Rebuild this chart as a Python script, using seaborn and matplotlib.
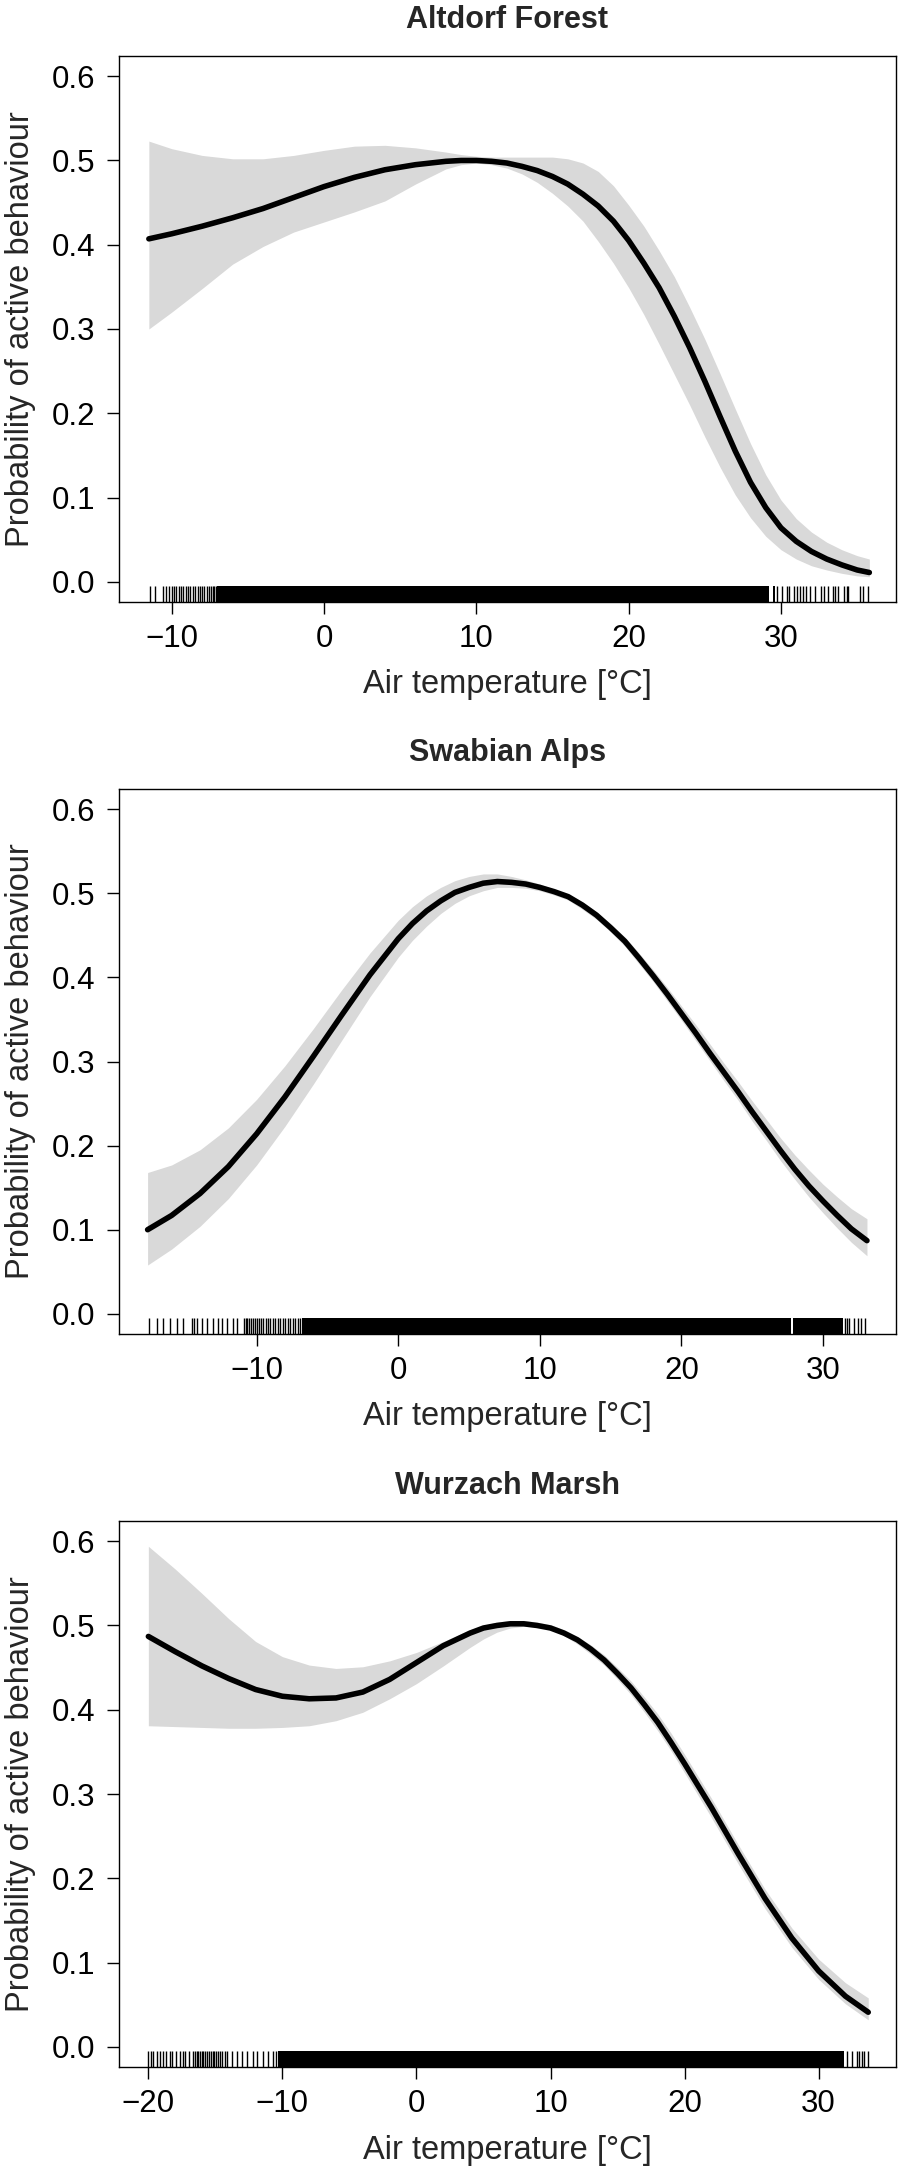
import matplotlib
matplotlib.use("Agg")
import matplotlib.pyplot as plt
import seaborn as sns

# ---------------- data ----------------
titles = ["Altdorf Forest", "Swabian Alps", "Wurzach Marsh"]
xlabel = "Air temperature [°C]"
ylabel = "Probability of active behaviour"
yticks = [0.0, 0.1, 0.2, 0.3, 0.4, 0.5, 0.6]

# Altdorf Forest
t1 = [-11.5, -10, -8, -6, -4, -2, 0, 2, 4, 6, 8, 9, 10, 11, 12, 13, 14, 15, 16, 17,
      18, 19, 20, 21, 22, 23, 24, 25, 26, 27, 28, 29, 30, 31, 32, 33, 34, 35, 35.8]
p1 = [0.407, 0.413, 0.422, 0.432, 0.443, 0.456, 0.469, 0.480, 0.489, 0.495, 0.499,
      0.500, 0.500, 0.499, 0.497, 0.493, 0.488, 0.481, 0.472, 0.460, 0.446, 0.428,
      0.405, 0.378, 0.349, 0.315, 0.278, 0.238, 0.196, 0.155, 0.118, 0.088, 0.064,
      0.048, 0.036, 0.027, 0.020, 0.014, 0.011]
hi1 = [0.523, 0.514, 0.506, 0.502, 0.502, 0.506, 0.512, 0.517, 0.518, 0.515, 0.510,
       0.507, 0.505, 0.504, 0.504, 0.504, 0.504, 0.504, 0.502, 0.497, 0.487, 0.470,
       0.447, 0.422, 0.393, 0.362, 0.326, 0.288, 0.247, 0.205, 0.164, 0.127, 0.097,
       0.075, 0.059, 0.047, 0.038, 0.031, 0.027]
lo1 = [0.300, 0.320, 0.348, 0.377, 0.398, 0.415, 0.427, 0.439, 0.452, 0.472, 0.490,
       0.495, 0.497, 0.495, 0.491, 0.484, 0.474, 0.461, 0.446, 0.428, 0.404, 0.378,
       0.349, 0.317, 0.282, 0.246, 0.210, 0.172, 0.136, 0.103, 0.076, 0.054, 0.038,
       0.027, 0.019, 0.014, 0.010, 0.007, 0.006]
rug1 = [-11.45, -11.1, -10.6, -10.35, -10.2, -10.0, -9.85, -9.7, -9.5, -9.4, -9.25,
        -9.05, -8.9, -8.8, -8.6, -8.5, -8.3, -8.15, -8.0, -7.85, -7.7, -7.55, -7.4,
        -7.3, -7.2, -7.1,
        29.76, 30.04, 30.4, 30.55, 30.85, 31.03, 31.25, 31.46, 31.64, 31.9, 32.23,
        32.6, 32.82, 33.1, 33.4, 33.55, 33.76, 34.14, 34.31, 34.42, 35.19, 35.4, 35.73]
dense1 = [(-7.0, 29.2), (29.45, 29.6)]

# Swabian Alps
t2 = [-17.7, -16, -14, -12, -10, -8, -6, -4, -2, 0, 1, 2, 3, 4, 5, 6, 7, 8, 9, 10,
      11, 12, 13, 14, 15, 16, 17, 18, 19, 20, 21, 22, 23, 24, 25, 26, 27, 28, 29,
      30, 31, 32, 33.1]
p2 = [0.100, 0.117, 0.143, 0.175, 0.214, 0.258, 0.306, 0.355, 0.403, 0.446, 0.464,
      0.479, 0.491, 0.501, 0.507, 0.512, 0.514, 0.513, 0.511, 0.507, 0.502, 0.496,
      0.486, 0.474, 0.459, 0.443, 0.423, 0.402, 0.380, 0.357, 0.334, 0.310, 0.287,
      0.264, 0.240, 0.217, 0.194, 0.172, 0.152, 0.134, 0.117, 0.101, 0.087]
hi2 = [0.168, 0.177, 0.195, 0.221, 0.255, 0.295, 0.339, 0.385, 0.429, 0.468, 0.484,
       0.497, 0.507, 0.515, 0.520, 0.523, 0.523, 0.520, 0.516, 0.511, 0.505, 0.499,
       0.490, 0.478, 0.464, 0.448, 0.429, 0.409, 0.388, 0.366, 0.344, 0.321, 0.298,
       0.276, 0.253, 0.231, 0.209, 0.189, 0.171, 0.154, 0.139, 0.125, 0.113]
lo2 = [0.058, 0.077, 0.104, 0.137, 0.177, 0.223, 0.273, 0.325, 0.377, 0.424, 0.444,
       0.461, 0.476, 0.488, 0.497, 0.503, 0.507, 0.507, 0.506, 0.503, 0.498, 0.492,
       0.481, 0.469, 0.454, 0.437, 0.416, 0.395, 0.372, 0.349, 0.325, 0.301, 0.277,
       0.254, 0.229, 0.206, 0.182, 0.160, 0.139, 0.120, 0.102, 0.085, 0.069]
rug2 = [-17.6, -17.06, -16.6, -16.12, -15.65, -15.23, -14.6, -14.4, -14.24, -13.88,
        -13.5, -13.06, -12.7, -12.43, -12.08, -11.65, -11.41, -10.9, -10.78, -10.66,
        -10.54, -10.42, -10.28, -10.12, -10.0, -9.84, -9.7, -9.53, -9.36, -9.22,
        -9.06, -8.87, -8.71, -8.52, -8.35, -8.16, -7.98, -7.81, -7.65, -7.46, -7.3,
        -7.1, -6.95,
        31.55, 31.7, 31.85, 32.2, 32.45, 32.65, 32.95]
dense2 = [(-6.8, 27.75), (27.85, 31.4)]

# Wurzach Marsh
t3 = [-20, -18, -16, -14, -12, -10, -8, -6, -4, -2, 0, 2, 4, 5, 6, 7, 8, 9, 10, 11,
      12, 13, 14, 15, 16, 17, 18, 19, 20, 22, 24, 26, 28, 30, 32, 33.7]
p3 = [0.487, 0.469, 0.452, 0.437, 0.424, 0.416, 0.413, 0.414, 0.421, 0.436, 0.456,
      0.476, 0.491, 0.497, 0.500, 0.502, 0.502, 0.500, 0.497, 0.491, 0.483, 0.472,
      0.459, 0.443, 0.426, 0.406, 0.385, 0.361, 0.336, 0.284, 0.229, 0.176, 0.129,
      0.090, 0.060, 0.041]
hi3 = [0.594, 0.567, 0.538, 0.508, 0.481, 0.463, 0.453, 0.449, 0.451, 0.458, 0.468,
       0.481, 0.495, 0.500, 0.504, 0.506, 0.506, 0.504, 0.501, 0.495, 0.487, 0.477,
       0.465, 0.450, 0.434, 0.415, 0.395, 0.372, 0.347, 0.295, 0.240, 0.187, 0.141,
       0.104, 0.076, 0.058]
lo3 = [0.381, 0.380, 0.379, 0.378, 0.378, 0.379, 0.381, 0.387, 0.397, 0.413, 0.431,
       0.452, 0.474, 0.484, 0.492, 0.497, 0.499, 0.498, 0.495, 0.488, 0.478, 0.466,
       0.453, 0.436, 0.418, 0.397, 0.375, 0.351, 0.325, 0.272, 0.217, 0.164, 0.118,
       0.080, 0.051, 0.032]
rug3 = [-20.0, -19.81, -19.62, -19.32, -19.13, -18.94, -18.67, -18.41, -18.22, -17.92,
        -17.65, -17.42, -17.23, -16.97, -16.7, -16.55, -16.4, -16.3, -16.15, -16.0,
        -15.9, -15.75, -15.6, -15.5, -15.35, -15.2, -15.1, -14.95, -14.8, -14.65,
        -14.5, -14.32, -14.13, -13.75, -13.37, -12.99, -12.61, -12.23, -11.86,
        -11.48, -11.1, -10.72, -10.5,
        32.08, 32.46, 32.84, 33.03, 33.22, 33.4, 33.67]
dense3 = [(-10.3, 31.9)]

panels = [
    dict(t=t1, p=p1, lo=lo1, hi=hi1, rug=rug1, dense=dense1,
         xlim=(-13.46, 37.55), xticks=[-10, 0, 10, 20, 30]),
    dict(t=t2, p=p2, lo=lo2, hi=hi2, rug=rug2, dense=dense2,
         xlim=(-19.72, 35.15), xticks=[-10, 0, 10, 20, 30]),
    dict(t=t3, p=p3, lo=lo3, hi=hi3, rug=rug3, dense=dense3,
         xlim=(-22.19, 35.77), xticks=[-20, -10, 0, 10, 20, 30]),
]

# ---------------- style ----------------
sns.set_style("ticks")
plt.rcParams['font.family'] = ['Liberation Sans', 'DejaVu Sans']
plt.rcParams['axes.unicode_minus'] = True

W, H = 898, 2170
fig = plt.figure(figsize=(W / 100, H / 100), dpi=100)

boxes = [(56, 602), (789, 1334), (1521, 2067)]
left_px, right_px = 119, 896

for i, (pan, (top, bot)) in enumerate(zip(panels, boxes)):
    ax = fig.add_axes([left_px / W, 1 - bot / H, (right_px - left_px) / W, (bot - top) / H])
    ax.fill_between(pan['t'], pan['lo'], pan['hi'], color='#D9D9D9', lw=0, zorder=1)
    sns.lineplot(x=pan['t'], y=pan['p'], ax=ax, color='black', lw=4.0,
                 solid_capstyle='round', solid_joinstyle='round', zorder=3)
    for (a, b) in pan['dense']:
        ax.axvspan(a, b, ymin=0, ymax=0.03, color='black', lw=0, zorder=2)
    sns.rugplot(x=pan['rug'], ax=ax, height=0.03, color='black', lw=0.8, zorder=2)

    ax.set_xlim(*pan['xlim'])
    ax.set_ylim(-0.024, 0.624)
    ax.set_xticks(pan['xticks'])
    ax.set_yticks(yticks)
    ax.set_yticklabels([f"{v:.1f}" for v in yticks])
    for s in ax.spines.values():
        s.set_visible(True)
        s.set_linewidth(1.0)
        s.set_color('black')
    ax.tick_params(axis='both', direction='out', length=8.6, width=1.0,
                   labelsize=22.5, color='black', labelcolor='black')
    ax.tick_params(axis='x', pad=7.5)
    ax.tick_params(axis='y', pad=8.5)

    hpx = bot - top
    ax.set_xlabel(xlabel, fontsize=23.5, va='center')
    ax.xaxis.set_label_coords(0.5, -83 / hpx)
    ax.set_ylabel(ylabel, fontsize=23.5, va='center', ha='center')
    ax.yaxis.set_label_coords(-(left_px - 20) / (right_px - left_px), 0.5)
    ax.set_title(titles[i], fontsize=22, fontweight='bold', y=1 + 35.5 / hpx,
                 va='center', pad=0)

fig.savefig("out.png", dpi=100)
